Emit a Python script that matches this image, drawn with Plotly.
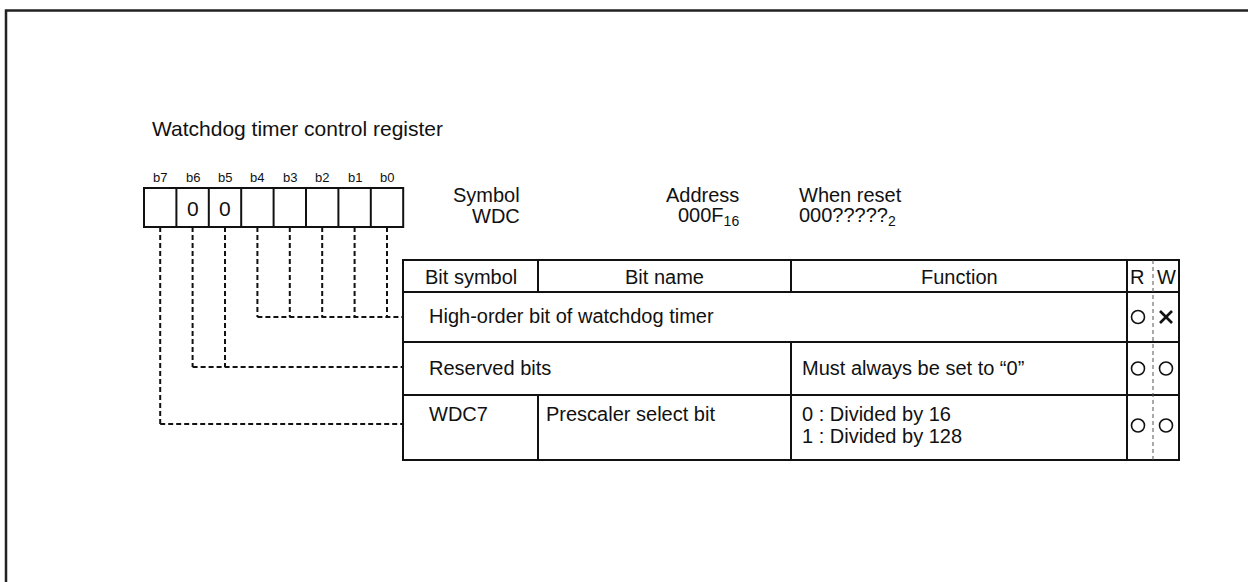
import plotly.graph_objects as go

# ---------------- content ----------------
TITLE = "Watchdog timer control register"
BIT_LABELS = ["b7", "b6", "b5", "b4", "b3", "b2", "b1", "b0"]
BIT_VALUES = ["", "0", "0", "", "", "", "", ""]
SYMBOL = ["Symbol", "WDC"]
ADDRESS = ["Address", "000F<sub>16</sub>"]
RESET = ["When reset", "000?????<sub>2</sub>"]
HEADERS = ["Bit symbol", "Bit name", "Function", "R", "W"]
ROW_SYMBOL = ["", "", "WDC7"]
ROW_NAME = ["High-order bit of watchdog timer", "Reserved bits", "Prescaler select bit"]
ROW_FUNC = [[], ["Must always be set to “0”"], ["0 : Divided by 16", "1 : Divided by 128"]]
ROW_R = ["o", "o", "o"]
ROW_W = ["x", "o", "o"]
ROW_BITS = [[3, 4, 5, 6, 7], [1, 2], [0]]   # bit indices (0 = b7) feeding each row

# ---------------- geometry ----------------
W, H = 1248, 582
FONT = "Liberation Sans, Arial, sans-serif"
BOX_X0, CELL_W, BOX_Y0, BOX_Y1 = 144, 32.4, 188, 227
COLS = [403, 538, 791, 1127, 1153, 1179]
ROWS = [260, 292, 342, 395, 460]
CONNECT_Y = [317, 367, 424]
BLACK = "#111"

shapes = []
ann = []


def line(x0, y0, x1, y1, width=2, dash=None, color=BLACK):
    d = dict(type="line", x0=x0, y0=y0, x1=x1, y1=y1, xref="x", yref="y",
             line=dict(color=color, width=width))
    if dash:
        d["line"]["dash"] = dash
    shapes.append(d)


def text(x, y, s, size=20, xanchor="left", yanchor="middle"):
    ann.append(dict(x=x, y=y, xref="x", yref="y", text=s, showarrow=False,
                    xanchor=xanchor, yanchor=yanchor,
                    font=dict(family=FONT, size=size, color=BLACK)))


# outer frame
shapes.append(dict(type="rect", x0=6, y0=10.5, x1=W + 10, y1=H + 10, xref="x", yref="y",
                   line=dict(color="#222", width=2.5)))

# title
text(150, 128, TITLE, size=21)

# bit boxes
n = len(BIT_LABELS)
shapes.append(dict(type="rect", x0=BOX_X0, y0=BOX_Y0, x1=BOX_X0 + n * CELL_W, y1=BOX_Y1,
                   xref="x", yref="y", line=dict(color=BLACK, width=2)))
for i in range(1, n):
    line(BOX_X0 + i * CELL_W, BOX_Y0, BOX_X0 + i * CELL_W, BOX_Y1)
for i, (lab, val) in enumerate(zip(BIT_LABELS, BIT_VALUES)):
    cx = BOX_X0 + (i + 0.5) * CELL_W
    text(cx, 177, lab, size=13, xanchor="center")
    if val:
        text(cx, 208, val, size=21, xanchor="center")

# symbol / address / reset
text(522, 195, SYMBOL[0], xanchor="right")
text(522, 216, SYMBOL[1], xanchor="right")
text(741, 195, ADDRESS[0], xanchor="right")
text(741, 216, ADDRESS[1], xanchor="right")
text(797, 195, RESET[0])
text(797, 216, RESET[1])

# connectors
DASH = "5px,3px"
for r, bits in enumerate(ROW_BITS):
    y = CONNECT_Y[r]
    xs = [BOX_X0 + (b + 0.5) * CELL_W for b in bits]
    for x in xs:
        line(x, BOX_Y1, x, y, width=2, dash=DASH)
    line(min(xs), y, COLS[0], y, width=2, dash=DASH)

# table frame
shapes.append(dict(type="rect", x0=COLS[0], y0=ROWS[0], x1=COLS[-1], y1=ROWS[-1],
                   xref="x", yref="y", line=dict(color=BLACK, width=2)))
for y in ROWS[1:-1]:
    line(COLS[0], y, COLS[-1], y)
# header
for x in (COLS[1], COLS[2], COLS[3]):
    line(x, ROWS[0], x, ROWS[1])
# row 0: only R column separator
line(COLS[3], ROWS[1], COLS[3], ROWS[2])
# row 1: function + R
for x in (COLS[2], COLS[3]):
    line(x, ROWS[2], x, ROWS[3])
# row 2: all
for x in (COLS[1], COLS[2], COLS[3]):
    line(x, ROWS[3], x, ROWS[4])
# R|W dashed divider
line(COLS[4], ROWS[0], COLS[4], ROWS[-1], width=1, dash="4px,3px", color="#555")

# headers
hy = (ROWS[0] + ROWS[1]) / 2
for i, h in enumerate(HEADERS):
    cx = (COLS[i] + COLS[i + 1]) / 2
    if h == "R":
        cx -= 3
    text(cx, hy + 1, h, xanchor="center")

# rows
for r in range(3):
    y0, y1 = ROWS[r + 1], ROWS[r + 2]
    ty = (y0 + y1) / 2 - 1 if r < 2 else y0 + 19
    if ROW_SYMBOL[r]:
        text(COLS[0] + 24, ty, ROW_SYMBOL[r])
        text(COLS[1] + 6, ty, ROW_NAME[r])
    else:
        text(COLS[0] + 24, ty, ROW_NAME[r])
    for k, f in enumerate(ROW_FUNC[r]):
        text(COLS[2] + 9, ty + k * 22, f)
    cy = (y0 + y1) / 2 if r < 2 else (y0 + y1) / 2 - 2
    for x, sym in ((COLS[3] + 11, ROW_R[r]), ((COLS[4] + COLS[5]) / 2, ROW_W[r])):
        if sym == "o":
            shapes.append(dict(type="circle", x0=x - 6.5, x1=x + 6.5, y0=cy - 6.5, y1=cy + 6.5,
                               xref="x", yref="y", line=dict(color=BLACK, width=1.6)))
        else:
            line(x - 6, cy - 6, x + 6, cy + 6, width=2.6)
            line(x - 6, cy + 6, x + 6, cy - 6, width=2.6)

fig = go.Figure()
fig.update_layout(
    width=W, height=H, margin=dict(l=0, r=0, t=0, b=0),
    paper_bgcolor="white", plot_bgcolor="white",
    xaxis=dict(range=[0, W], visible=False, fixedrange=True),
    yaxis=dict(range=[H, 0], visible=False, fixedrange=True),
    shapes=shapes, annotations=ann, showlegend=False,
)
fig.write_html("out.html", config={"displayModeBar": False},
               post_script="document.body.style.margin='0';document.body.style.overflow='hidden';")
